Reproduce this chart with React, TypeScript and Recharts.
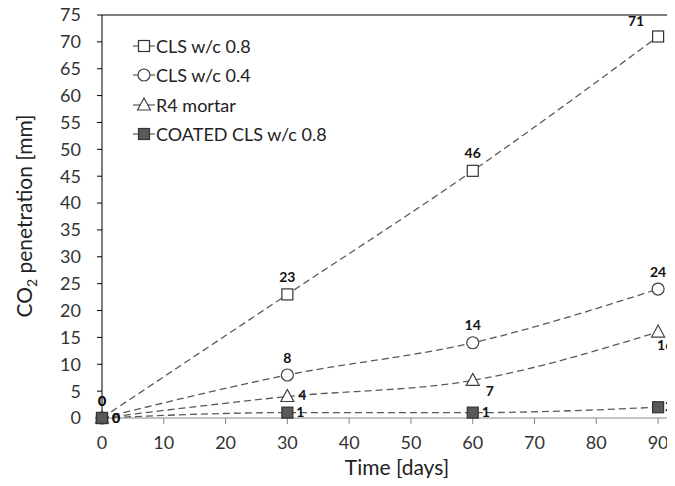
import { LineChart, Line, XAxis, YAxis, ReferenceLine, LabelList } from 'recharts'

// carbonation depth readings
const days = [0, 30, 60, 90]
const cls08 = [0, 23, 46, 71]
const cls04 = [0, 8, 14, 24]
const r4Mortar = [0, 4, 7, 16]
const coatedCls08 = [0, 1, 1, 2]
const seriesNames = ['CLS w/c 0.8', 'CLS w/c 0.4', 'R4 mortar', 'COATED CLS w/c 0.8']
const xTicks = [0, 10, 20, 30, 40, 50, 60, 70, 80, 90]
const yTicks = [0, 5, 10, 15, 20, 25, 30, 35, 40, 45, 50, 55, 60, 65, 70, 75]

const data = days.map((d, i) => ({
    day: d,
    s0: cls08[i],
    s1: cls04[i],
    s2: r4Mortar[i],
    s3: coatedCls08[i],
}))

const FONT = 'Lato, "Open Sans", sans-serif'
const LINE = '#5a5a5a'

type Shape = 'square' | 'circle' | 'triangle' | 'filled'

// label offsets: [dx, dy, anchor]
type Lab = [number, number, 'middle' | 'start']
const series: { key: string; shape: Shape; lab: (i: number) => Lab }[] = [
    { key: 's0', shape: 'square', lab: i => (i === 3 ? [-22, -14, 'middle'] : [0, -16, 'middle']) },
    { key: 's1', shape: 'circle', lab: () => [0, -16, 'middle'] },
    { key: 's2', shape: 'triangle', lab: i => (i === 0 ? [10, 1, 'start'] : i === 1 ? [11, 0, 'start'] : i === 2 ? [13, 12, 'start'] : [-1, 14, 'start']) },
    { key: 's3', shape: 'filled', lab: i => (i === 0 ? [10, 1, 'start'] : i === 3 ? [7, 0, 'start'] : [9, 1, 'start']) },
]

const Marker = ({ cx, cy, shape }: { cx: number; cy: number; shape: Shape }) => {
    if (shape === 'circle') return <circle cx={cx} cy={cy} r={6} fill="#fff" stroke="#404040" strokeWidth={1.2} />
    if (shape === 'triangle')
        return <path d={`M${cx},${cy - 7} L${cx + 6.5},${cy + 5} L${cx - 6.5},${cy + 5} Z`} fill="#fff" stroke="#404040" strokeWidth={1.2} />
    const fill = shape === 'filled' ? '#595959' : '#fff'
    return <rect x={cx - 5.5} y={cy - 5.5} width={11} height={11} fill={fill} stroke="#333" strokeWidth={1.2} />
}

const LegendBox = () => (
    <div style={{ position: 'absolute', top: 31, left: 125, fontFamily: FONT, fontSize: 18, color: '#222' }}>
        {seriesNames.map((n, i) => (
            <div key={n} style={{ display: 'flex', alignItems: 'center', height: 29.5 }}>
                <svg width={22} height={20}>
                    <line x1={0} x2={22} y1={10} y2={10} stroke={LINE} strokeWidth={1.2} />
                    <Marker cx={11} cy={10} shape={series[i].shape} />
                </svg>
                <span style={{ marginLeft: 1 }}>{n}</span>
            </div>
        ))}
    </div>
)

const App = () => {
    return (
        <div style={{ width: 667, height: 478, marginTop: -8, overflow: 'hidden', position: 'relative' }}>
            <LineChart width={690} height={478} data={data} margin={{ top: 15, right: 9, left: 0, bottom: 0 }}>
                <XAxis
                    dataKey="day"
                    type="number"
                    domain={[0, 95]}
                    ticks={xTicks}
                    interval={0}
                    stroke="#888"
                    tickSize={6}
                    tickMargin={12}
                    height={60}
                    tick={{ fill: '#333', fontSize: 18, fontFamily: FONT }}
                    label={{
                        content: () => (
                            <text x={389} y={475} textAnchor="middle" fill="#222" fontSize={21} fontFamily={FONT}>
                                Time [days]
                            </text>
                        ),
                    }}
                />
                <YAxis
                    type="number"
                    domain={[0, 75]}
                    ticks={yTicks}
                    interval={0}
                    width={94}
                    stroke="#000"
                    tickSize={5}
                    tickMargin={16}
                    tick={{ fill: '#333', fontSize: 18, fontFamily: FONT }}
                    label={{
                        content: () => (
                            <text x={24} y={216} transform="rotate(-90 24 216)" textAnchor="middle" fill="#222" fontSize={21} fontFamily={FONT}>
                                CO<tspan fontSize={14} dy={5}>2</tspan>
                                <tspan dy={-5}> penetration [mm]</tspan>
                            </text>
                        ),
                    }}
                />
                <ReferenceLine y={75} stroke="#000" strokeWidth={1.2} />
                {series.map((s, si) => (
                    <Line
                        key={s.key}
                        dataKey={s.key}
                        name={seriesNames[si]}
                        type="monotone"
                        stroke={LINE}
                        strokeWidth={1.3}
                        strokeDasharray="7 4"
                        isAnimationActive={false}
                        dot={(p: any) => <Marker key={`${s.key}-${p.index}`} cx={p.cx} cy={p.cy} shape={s.shape} />}
                    >
                        <LabelList
                            dataKey={s.key}
                            content={(p: any) => {
                                const [dx, dy, anchor] = s.lab(p.index)
                                return (
                                    <text
                                        x={p.x + dx}
                                        y={p.y + dy}
                                        textAnchor={anchor}
                                        dominantBaseline="middle"
                                        fontSize={14}
                                        fontWeight="bold"
                                        fontFamily={FONT}
                                        fill="#111"
                                    >
                                        {Math.round(p.value)}
                                    </text>
                                )
                            }}
                        />
                    </Line>
                ))}
            </LineChart>
            <LegendBox />
        </div>
    )
}

export default App
